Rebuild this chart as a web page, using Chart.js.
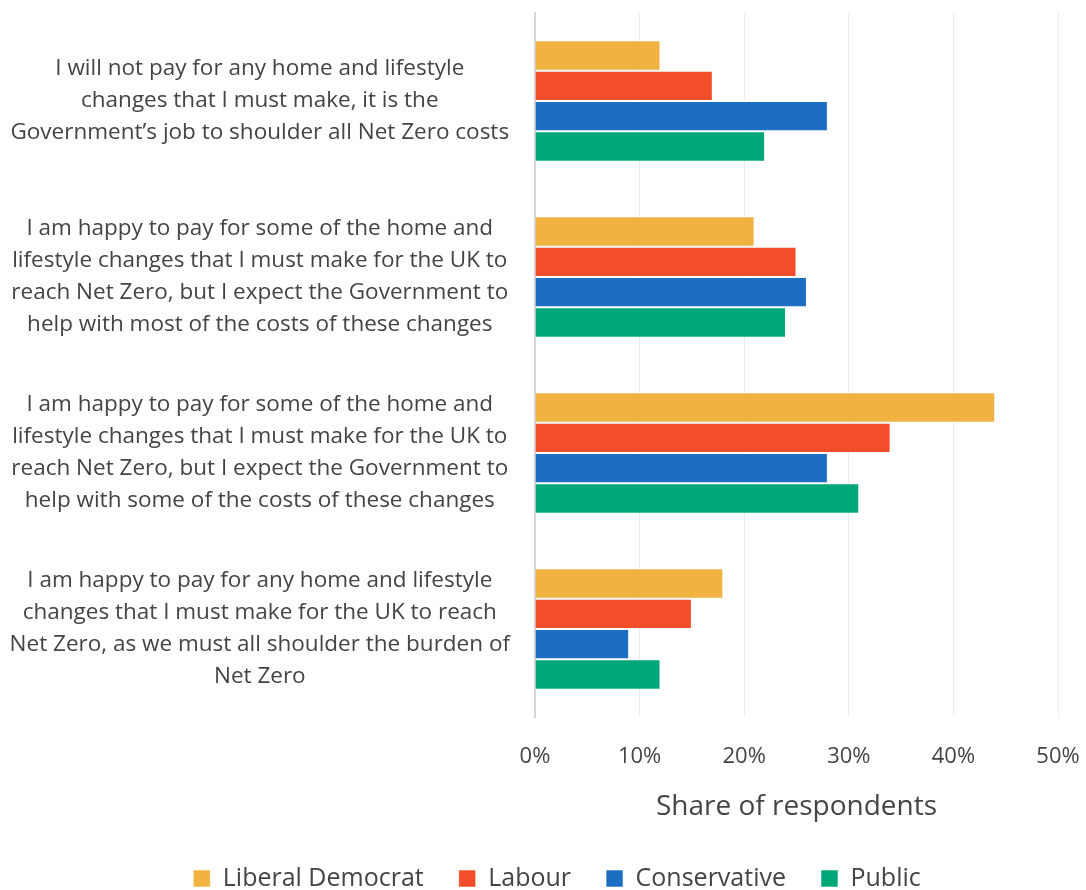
<!DOCTYPE html>
<html>
<head>
<meta charset="utf-8">
<title>Net Zero costs by party</title>
<script src="https://cdn.jsdelivr.net/npm/chart.js@4/dist/chart.umd.min.js"></script>
<style>
  html, body { margin: 0; padding: 0; background: #fff; }
  #wrap { width: 1086px; height: 890px; }
</style>
</head>
<body>
<div id="wrap"><canvas id="netZeroChart" width="1086" height="890"></canvas></div>
<script>
// Survey answers, split into the lines shown on the axis
const answers = [
  ["I will not pay for any home and lifestyle", "changes that I must make, it is the", "Government\u2019s job to shoulder all Net Zero costs"],
  ["I am happy to pay for some of the home and", "lifestyle changes that I must make for the UK to", "reach Net Zero, but I expect the Government to", "help with most of the costs of these changes"],
  ["I am happy to pay for some of the home and", "lifestyle changes that I must make for the UK to", "reach Net Zero, but I expect the Government to", "help with some of the costs of these changes"],
  ["I am happy to pay for any home and lifestyle", "changes that I must make for the UK to reach", "Net Zero, as we must all shoulder the burden of", "Net Zero"]
];

const groups = ["Liberal Democrat", "Labour", "Conservative", "Public"];
const groupColors = ["#F0B342", "#F24E29", "#1B6EC2", "#00A776"];

// share of respondents (%)
const libDem = [12, 21, 44, 18];
const labour = [17, 25, 34, 15];
const conservative = [28, 26, 28, 9];
const publicAll = [22, 24, 31, 12];

const xTicks = [0, 10, 20, 30, 40, 50];

const series = [libDem, labour, conservative, publicAll];
const fontFamily = "'Open Sans', 'DejaVu Sans', sans-serif";

new Chart(document.getElementById("netZeroChart"), {
  type: "bar",
  data: {
    labels: answers,
    datasets: series.map(function (values, i) {
      return {
        label: groups[i],
        data: values,
        backgroundColor: groupColors[i],
        borderColor: "rgba(255,255,255,0.55)",
        borderWidth: 1,
        barPercentage: 1,
        categoryPercentage: 0.69
      };
    })
  },
  options: {
    indexAxis: "y",
    responsive: false,
    animation: false,
    // right edge runs past the canvas so the legend sits a bit right of centre;
    // the x axis padding below brings the plot back in
    layout: { padding: { top: 13, right: -22, left: 6, bottom: -11 } },
    plugins: {
      tooltip: { enabled: false },
      legend: {
        position: "bottom",
        labels: {
          color: "#444",
          font: { family: fontFamily, size: 25 },
          boxWidth: 17,
          boxHeight: 17,
          padding: 35
        }
      }
    },
    scales: {
      x: {
        min: xTicks[0],
        max: xTicks[xTicks.length - 1],
        afterBuildTicks: function (scale) {
          scale.ticks = xTicks.map(function (v) { return { value: v }; });
        },
        afterFit: function (scale) {
          scale.paddingRight = 28;
        },
        grid: { color: "#ececec", lineWidth: 1, drawTicks: false },
        border: { display: false },
        ticks: {
          color: "#444",
          font: { family: fontFamily, size: 22 },
          padding: 27,
          callback: function (v) { return v + "%"; }
        },
        title: {
          display: true,
          text: "Share of respondents",
          color: "#444",
          font: { family: fontFamily, size: 28 },
          padding: { top: -7, bottom: 7 }
        }
      },
      y: {
        afterFit: function (scale) {
          // fixed label column; multi-line labels may overhang the plot
          scale.width = 529;
          scale.paddingTop = 0;
          scale.paddingBottom = 0;
        },
        grid: { display: false, drawTicks: false },
        border: { display: true, color: "#d6d6d6", width: 2 },
        ticks: {
          color: "#444",
          crossAlign: "center",
          padding: 25,
          font: { family: fontFamily, size: 22.5, lineHeight: 1.42 }
        }
      }
    }
  }
});
</script>
</body>
</html>
